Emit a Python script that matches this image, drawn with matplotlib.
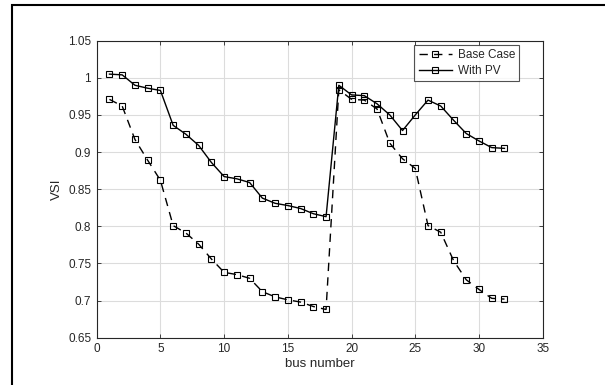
import matplotlib
matplotlib.use("Agg")
import matplotlib.pyplot as plt
from matplotlib.patches import Rectangle

bus = list(range(1, 33))
base_case = [0.971, 0.962, 0.917, 0.889, 0.862, 0.801, 0.791, 0.776, 0.756, 0.738,
             0.735, 0.730, 0.712, 0.705, 0.701, 0.698, 0.692, 0.688,
             0.984, 0.971, 0.970, 0.958, 0.912, 0.891, 0.878, 0.801, 0.792, 0.754,
             0.728, 0.715, 0.703, 0.702]
with_pv = [1.005, 1.004, 0.990, 0.986, 0.983, 0.936, 0.924, 0.909, 0.886, 0.867,
           0.864, 0.859, 0.838, 0.831, 0.828, 0.824, 0.817, 0.813,
           0.990, 0.977, 0.976, 0.965, 0.950, 0.929, 0.950, 0.970, 0.962, 0.943,
           0.925, 0.915, 0.906, 0.905]

plt.rcParams['font.family'] = ['Liberation Sans', 'DejaVu Sans']

fig = plt.figure(figsize=(6.05, 3.85), dpi=100)
W, H = 605, 385
ax = fig.add_axes([96.7 / W, 1 - 337.7 / H, 446 / W, 297 / H])

txt = '#262626'
ax.plot(bus, base_case, linestyle=(0, (6, 4.5)), color='black', lw=1.0,
        marker='s', markersize=5, markerfacecolor='none', markeredgecolor='black',
        markeredgewidth=0.8, label='Base Case')
ax.plot(bus, with_pv, linestyle='-', color='black', lw=1.0,
        marker='s', markersize=5, markerfacecolor='none', markeredgecolor='black',
        markeredgewidth=0.8, label='With PV')

ax.set_xlim(0, 35)
ax.set_ylim(0.65, 1.05)
ax.set_xticks([0, 5, 10, 15, 20, 25, 30, 35])
ax.set_yticks([0.65, 0.7, 0.75, 0.8, 0.85, 0.9, 0.95, 1.0, 1.05])
ax.set_yticklabels(['0.65', '0.7', '0.75', '0.8', '0.85', '0.9', '0.95', '1', '1.05'])
ax.grid(True, color='#dcdcdc', lw=0.8)
ax.set_axisbelow(True)
ax.tick_params(direction='in', top=True, right=True, length=3, width=0.6,
               labelsize=8.5, colors=txt, pad=4)
for s in ax.spines.values():
    s.set_color('#262626')
    s.set_linewidth(0.8)
ax.set_xlabel('bus number', fontsize=9.5, color=txt, labelpad=2)
ax.set_ylabel('VSI', fontsize=9.5, color=txt, labelpad=4)

leg = ax.legend(loc='upper right', bbox_to_anchor=(0.947, 0.985), fontsize=8.5,
                frameon=True, fancybox=False, edgecolor='#262626',
                handlelength=2.8, borderpad=0.35, labelspacing=0.3, handletextpad=0.5,
                borderaxespad=0)
leg.get_frame().set_linewidth(0.8)
for t in leg.get_texts():
    t.set_color(txt)

fig.patches.append(Rectangle((12 / W, -0.1), 1.2, 1 - 4.5 / H + 0.1,
                             transform=fig.transFigure, fill=False,
                             edgecolor='black', lw=1.5))

fig.savefig('out.png', dpi=100)
